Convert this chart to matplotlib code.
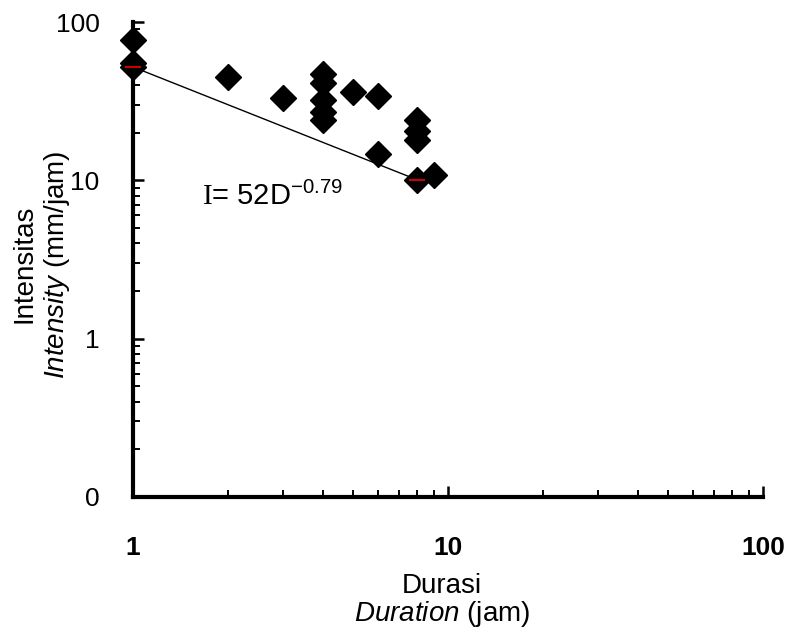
import numpy as np
import matplotlib.pyplot as plt
from matplotlib.ticker import LogLocator, FixedLocator, FixedFormatter, NullFormatter

plt.rcParams['font.family'] = ['Liberation Sans', 'DejaVu Sans']
plt.rcParams['mathtext.fontset'] = 'custom'
plt.rcParams['mathtext.rm'] = 'Liberation Serif'
plt.rcParams['mathtext.sf'] = 'Liberation Sans'
plt.rcParams['mathtext.it'] = 'Liberation Sans:italic'

# observed duration (jam) and intensity (mm/jam)
durasi = [1, 1, 1, 2, 3, 4, 4, 4, 4, 4, 5, 6, 6, 8, 8, 8, 8, 9]
intensitas = [77, 55, 52, 45, 33, 47, 41, 32, 27, 24, 36, 34, 14.7, 24, 20.6, 18, 10, 10.8]

# fitted curve I = a * D^b
fit_a = 52
fit_b = -0.79
fit_range = [1, 8]

y_ticks = [0.1, 1, 10, 100]
y_labels = ['0', '1', '10', '100']
x_ticks = [1, 10, 100]
x_labels = ['1', '10', '100']

fig = plt.figure(figsize=(7.88, 6.33), dpi=100)
ax = fig.add_axes([0.1688, 0.2149, 0.7995, 0.7503])

ax.set_xscale('log')
ax.set_yscale('log')

ax.plot(durasi, intensitas, linestyle='none', marker='D', markersize=13,
        color='black', zorder=3, clip_on=False)

d_fit = np.array(fit_range, dtype=float)
ax.plot(d_fit, fit_a * d_fit ** fit_b, color='black', linewidth=1.0, zorder=4)
ax.plot(d_fit, fit_a * d_fit ** fit_b, linestyle='none', marker='_',
        markersize=12, markeredgewidth=1.5, color='#cc0000', zorder=5,
        clip_on=False)

ax.text(1.66, 6.95, r'$\mathrm{I}$= 52D$^{\mathsf{-0.79}}$', fontsize=21,
        va='baseline', ha='left')

ax.set_xlim(1, 100)
ax.set_ylim(0.1, 100)

ax.xaxis.set_major_locator(FixedLocator(x_ticks))
ax.xaxis.set_major_formatter(FixedFormatter(x_labels))
ax.xaxis.set_minor_locator(LogLocator(base=10, subs=np.arange(2, 10)))
ax.xaxis.set_minor_formatter(NullFormatter())
ax.yaxis.set_major_locator(FixedLocator(y_ticks))
ax.yaxis.set_major_formatter(FixedFormatter(y_labels))
ax.yaxis.set_minor_locator(LogLocator(base=10, subs=np.arange(2, 10)))
ax.yaxis.set_minor_formatter(NullFormatter())

for side in ['top', 'right']:
    ax.spines[side].set_visible(False)
for side in ['left', 'bottom']:
    ax.spines[side].set_linewidth(3.0)

ax.tick_params(axis='both', which='major', direction='in', length=8, width=1.8,
               labelsize=19)
ax.tick_params(axis='both', which='minor', direction='in', length=5, width=1.4)
ax.tick_params(axis='x', which='major', pad=28)
ax.tick_params(axis='y', which='major', pad=24)
for lbl in ax.get_xticklabels():
    lbl.set_fontweight('bold')

ax.set_xlabel('Durasi\n' + r'$\mathit{Duration}$ (jam)', fontsize=20,
              linespacing=1.0)
ax.set_ylabel('Intensitas\n' + r'$\mathit{Intensity}$ (mm/jam)', fontsize=20,
              linespacing=1.2)
ax.xaxis.set_label_coords(0.49, -0.16)
ax.yaxis.set_label_coords(-0.097, 0.49)

fig.savefig('out.png', dpi=100)
